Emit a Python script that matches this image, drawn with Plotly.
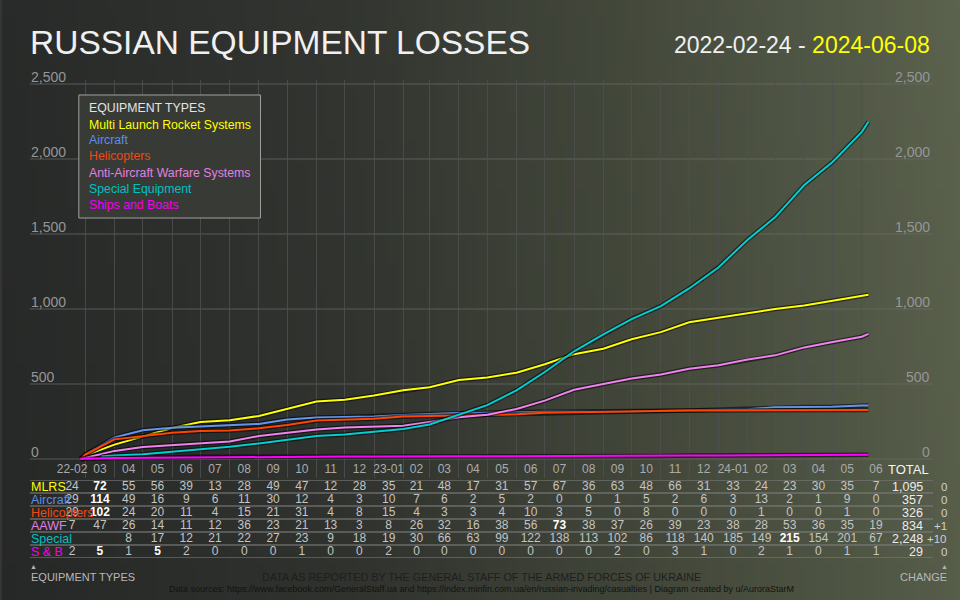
import base64, struct, zlib
import pandas as pd
import plotly.graph_objects as go

W, H = 960, 600

# ---------------- data ----------------
months = [str(p) for p in pd.period_range('2022-02', '2024-06', freq='M')]
month_labels = ['22-02', '03', '04', '05', '06', '07', '08', '09', '10', '11', '12',
                '23-01', '02', '03', '04', '05', '06', '07', '08', '09', '10', '11', '12',
                '24-01', '02', '03', '04', '05', '06']
row_short = ['MLRS', 'Aircraft', 'Helicopters', 'AAWF', 'Special', 'S & B']
series_names = ['Multi Launch Rocket Systems', 'Aircraft', 'Helicopters',
                'Anti-Aircraft Warfare Systems', 'Special Equipment', 'Ships and Boats']
line_colors = ['#ffff00', '#6495ed', '#ff4500', '#ee82ee', '#00ced1', '#ff00ff']
text_colors = ['#ffff00', '#5b8de8', '#f04810', '#e080e0', '#00c0c0', '#f000f0']

monthly_mlrs = [24, 72, 55, 56, 39, 13, 28, 49, 47, 12, 28, 35, 21, 48, 17, 31, 57, 67, 36, 63,
                48, 66, 31, 33, 24, 23, 30, 35, 7]
monthly_aircraft = [29, 114, 49, 16, 9, 6, 11, 30, 12, 4, 3, 10, 7, 6, 2, 5, 2, 0, 0, 1,
                    5, 2, 6, 3, 13, 2, 1, 9, 0]
monthly_heli = [29, 102, 24, 20, 11, 4, 15, 21, 31, 4, 8, 15, 4, 3, 3, 4, 10, 3, 5, 0,
                8, 0, 0, 0, 1, 0, 0, 1, 0]
monthly_aawf = [7, 47, 26, 14, 11, 12, 36, 23, 21, 13, 3, 8, 26, 32, 16, 38, 56, 73, 38, 37,
                26, 39, 23, 38, 28, 53, 36, 35, 19]
monthly_special = [None, None, 8, 17, 12, 21, 22, 27, 23, 9, 18, 19, 30, 66, 63, 99, 122, 138, 113, 102,
                   86, 118, 140, 185, 149, 215, 154, 201, 67]
monthly_ships = [2, 5, 1, 5, 2, 0, 0, 0, 1, 0, 0, 2, 0, 0, 0, 0, 0, 0, 0, 2,
                 0, 3, 1, 0, 2, 1, 0, 1, 1]
monthly = [monthly_mlrs, monthly_aircraft, monthly_heli, monthly_aawf, monthly_special, monthly_ships]

totals = [1095, 357, 326, 834, 2248, 29]
changes = ['0', '0', '0', '+1', '+10', '0']

# cumulative totals read at start, each month end, and the last report date
start_date = '2022-02-24'
end_date = '2024-06-08'
cum_mlrs = [0, 24, 96, 151, 207, 246, 259, 287, 336, 383, 395, 423, 458, 479, 527, 544, 575, 632,
            699, 735, 798, 846, 912, 943, 976, 1000, 1023, 1053, 1088, 1095]
cum_aircraft = [0, 29, 143, 192, 208, 217, 223, 234, 264, 276, 280, 283, 293, 300, 306, 308, 313,
                315, 315, 315, 316, 321, 323, 329, 332, 345, 347, 348, 357, 357]
cum_heli = [0, 29, 131, 155, 175, 186, 190, 205, 226, 257, 261, 269, 284, 288, 291, 294, 298, 308,
            311, 316, 316, 324, 324, 324, 324, 325, 325, 325, 326, 326]
cum_aawf = [0, 7, 54, 80, 94, 105, 117, 153, 176, 197, 210, 213, 221, 247, 279, 295, 333, 389,
            462, 500, 537, 563, 602, 625, 663, 691, 744, 780, 815, 834]
special_start = '2022-03-18'
cum_special = [16, 24, 32, 49, 61, 82, 104, 131, 154, 163, 181, 200, 230, 296, 359, 458, 580, 718,
               831, 933, 1019, 1137, 1277, 1462, 1611, 1826, 1980, 2181, 2248]
cum_ships = [0, 2, 7, 8, 13, 15, 15, 15, 15, 16, 16, 16, 18, 18, 18, 18, 18, 18, 18, 18, 20, 20,
             23, 24, 24, 26, 27, 27, 28, 29]

y_ticks = [0, 500, 1000, 1500, 2000, 2500]

# ---------------- helpers ----------------
def px_x(p):
    return p / W

def px_y(p):
    return 1 - p / H

periods = pd.period_range(months[0], months[-1], freq='M')
month_ends = [p.end_time for p in periods[:-1]]
month_mid = [p.start_time + (p.end_time - p.start_time) / 2 for p in periods]
line_dates = [pd.Timestamp(start_date)] + month_ends + [pd.Timestamp(end_date)]
special_dates = [pd.Timestamp(special_start)] + month_ends[1:] + [pd.Timestamp(end_date)]
cums = [cum_mlrs, cum_aircraft, cum_heli, cum_aawf, cum_special, cum_ships]
dates_per = [line_dates, line_dates, line_dates, line_dates, special_dates, line_dates]


def gradient_png(w, h):
    stops = [(0.0, (41, 43, 42)), (0.35, (50, 53, 48)), (0.65, (68, 73, 60)), (1.0, (91, 98, 77))]
    rows = []
    for j in range(h):
        v = j / (h - 1)
        row = bytearray([0])
        for i in range(w):
            t = i / (w - 1)
            for k in range(len(stops) - 1):
                if stops[k][0] <= t <= stops[k + 1][0]:
                    a, ca = stops[k]
                    b, cb = stops[k + 1]
                    f = (t - a) / (b - a)
                    c = [ca[n] + (cb[n] - ca[n]) * f for n in range(3)]
                    break
            shade = 1.0 - 0.05 * v
            row += bytes(int(max(0, min(255, c[n] * shade))) for n in range(3))
        rows.append(bytes(row))
    raw = b''.join(rows)

    def chunk(tag, data):
        return struct.pack('>I', len(data)) + tag + data + struct.pack('>I', zlib.crc32(tag + data) & 0xffffffff)
    png = b'\x89PNG\r\n\x1a\n' + chunk(b'IHDR', struct.pack('>IIBBBBB', w, h, 8, 2, 0, 0, 0)) \
        + chunk(b'IDAT', zlib.compress(raw, 9)) + chunk(b'IEND', b'')
    return 'data:image/png;base64,' + base64.b64encode(png).decode()


FONT = 'Liberation Sans, Arial, sans-serif'

fig = go.Figure()

# ---------------- lines ----------------
for name, col, d, c in zip(series_names, line_colors, dates_per, cums):
    fig.add_trace(go.Scatter(x=d, y=c, mode='lines', line=dict(color='rgba(0,0,0,0.55)', width=4.5),
                             hoverinfo='skip', showlegend=False, xaxis='x', yaxis='y'))
    fig.add_trace(go.Scatter(x=d, y=c, mode='lines', name=name, line=dict(color=col, width=2),
                             showlegend=False, xaxis='x', yaxis='y'))

# ---------------- table ----------------
for r, vals in zip(row_short, monthly):
    mx = max(v for v in vals if v is not None)
    txt = []
    for v in vals:
        if v is None:
            txt.append('')
        elif v == mx:
            txt.append('<span style="color:#ffffff"><b>%d</b></span>' % v)
        else:
            txt.append('%d' % v)
    fig.add_trace(go.Scatter(x=month_mid, y=[r] * len(vals), mode='text', text=txt,
                             textfont=dict(family=FONT, size=12, color='#c4c4c4'),
                             textposition='middle center', cliponaxis=False,
                             hoverinfo='skip', showlegend=False, xaxis='x2', yaxis='y2'))

shapes = []
# horizontal grid lines (extend beyond the plot both sides)
for v in y_ticks:
    shapes.append(dict(type='line', xref='paper', yref='y', x0=px_x(28), x1=px_x(933), y0=v, y1=v,
                       line=dict(color='rgba(110,110,110,0.7)', width=1), layer='below'))
# table separators
for k in range(len(row_short) + 1):
    shapes.append(dict(type='line', xref='paper', yref='y2', x0=px_x(28), x1=px_x(933),
                       y0=k - 0.5, y1=k - 0.5,
                       line=dict(color='rgba(125,125,125,0.75)', width=1.3), layer='below'))
# legend box
shapes.append(dict(type='rect', xref='paper', yref='paper', x0=px_x(77), x1=px_x(259),
                   y0=px_y(218), y1=px_y(95), fillcolor='#383a36',
                   line=dict(color='#a0a0a0', width=1), layer='above'))

ann = []
# title
ann.append(dict(text='RUSSIAN EQUIPMENT LOSSES', x=px_x(26), y=px_y(42), xref='paper', yref='paper',
                xanchor='left', yanchor='middle', showarrow=False,
                font=dict(family=FONT, size=33.5, color='#f0f0f0')))
ann.append(dict(text='2022-02-24 - <span style="color:#ffff00">2024-06-08</span>', x=px_x(932),
                y=px_y(45), xref='paper', yref='paper', xanchor='right', yanchor='middle',
                showarrow=False, font=dict(family=FONT, size=23, color='#f0f0f0')))
# y tick labels both sides
for v in y_ticks:
    for xp, xa in ((27, 'left'), (932, 'right')):
        ann.append(dict(text=f'{v:,}', x=px_x(xp), y=v, xref='paper', yref='y', xanchor=xa,
                        yanchor='bottom', yshift=-3, showarrow=False,
                        font=dict(family=FONT, size=14, color='#969696')))
# legend
ann.append(dict(text='EQUIPMENT TYPES', x=px_x(85), y=px_y(108), xref='paper', yref='paper',
                xanchor='left', yanchor='middle', showarrow=False,
                font=dict(family=FONT, size=12.3, color='#e4e4e4')))
for i, (nm, col) in enumerate(zip(series_names, text_colors)):
    ann.append(dict(text=nm, x=px_x(85), y=px_y(124.5 + 16 * i), xref='paper', yref='paper',
                    xanchor='left', yanchor='middle', showarrow=False,
                    font=dict(family=FONT, size=12.3, color=col)))
# table row labels, totals, changes
for r, col, t, ch in zip(row_short, text_colors, totals, changes):
    ann.append(dict(text=r, x=px_x(27), y=r, xref='paper', yref='y2', xanchor='left',
                    yanchor='middle', showarrow=False, font=dict(family=FONT, size=12.5, color=col)))
    ann.append(dict(text=f'{t:,}', x=px_x(925), y=r, xref='paper', yref='y2', xanchor='right',
                    yanchor='middle', showarrow=False, font=dict(family=FONT, size=12.5, color='#ececec')))
    ann.append(dict(text=ch, x=px_x(949), y=r, xref='paper', yref='y2', xanchor='right',
                    yanchor='middle', showarrow=False, font=dict(family=FONT, size=11.5, color='#d0d0d0')))
ann.append(dict(text='TOTAL', x=px_x(931), y=px_y(469), xref='paper', yref='paper', xanchor='right',
                yanchor='middle', showarrow=False, font=dict(family=FONT, size=13, color='#f4f4f4')))
# footer
ann.append(dict(text='▲', x=px_x(31.5), y=px_y(566), xref='paper', yref='paper', xanchor='center',
                yanchor='middle', showarrow=False, font=dict(family=FONT, size=7, color='#b4b4b4')))
ann.append(dict(text='EQUIPMENT TYPES', x=px_x(27), y=px_y(577), xref='paper', yref='paper',
                xanchor='left', yanchor='middle', showarrow=False,
                font=dict(family=FONT, size=11, color='#b8b8b8')))
ann.append(dict(text='▲', x=px_x(944), y=px_y(566), xref='paper', yref='paper', xanchor='center',
                yanchor='middle', showarrow=False, font=dict(family=FONT, size=7, color='#b4b4b4')))
ann.append(dict(text='CHANGE', x=px_x(949), y=px_y(577), xref='paper', yref='paper',
                xanchor='right', yanchor='middle', showarrow=False,
                font=dict(family=FONT, size=11, color='#b8b8b8')))
ann.append(dict(text='DATA AS REPORTED BY THE GENERAL STAFF OF THE ARMED FORCES OF UKRAINE',
                x=0.5, y=px_y(577), xref='paper', yref='paper', xanchor='center', yanchor='middle',
                showarrow=False, font=dict(family=FONT, size=10.8, color='#1e1e1e')))
ann.append(dict(text='Data sources: https://www.facebook.com/GeneralStaff.ua and '
                     'https://index.minfin.com.ua/en/russian-invading/casualties | Diagram created by u/AuroraStarM',
                x=0.5, y=px_y(589), xref='paper', yref='paper', xanchor='center', yanchor='middle',
                showarrow=False, font=dict(family=FONT, size=9, color='#121212')))

x_domain = [px_x(57), px_x(890)]
y0_px, ppu = 459.0, 0.15

fig.update_layout(
    width=W, height=H, margin=dict(l=0, r=0, t=0, b=0),
    paper_bgcolor='#34372f', plot_bgcolor='rgba(0,0,0,0)',
    font=dict(family=FONT, color='#cccccc'),
    showlegend=False,
    images=[dict(source=gradient_png(96, 24), xref='paper', yref='paper', x=0, y=1, sizex=1, sizey=1,
                 sizing='stretch', xanchor='left', yanchor='top', layer='below')],
    xaxis=dict(type='date', domain=x_domain, range=['2022-02-01', '2024-07-01'],
               tickvals=month_mid, ticktext=month_labels, ticklabelposition='inside', ticks='',
               ticklabeloverflow='allow',
               tickfont=dict(family=FONT, size=12, color='#ababab'),
               showgrid=False, zeroline=False, showline=False, anchor='y',
               minor=dict(tick0='2022-02-01', dtick='M1', showgrid=True,
                          gridcolor='rgba(80,80,80,0.8)', gridwidth=1, ticks='')),
    yaxis=dict(domain=[px_y(478), px_y(80)],
               range=[(y0_px - 478) / ppu, (y0_px - 80) / ppu],
               showgrid=False, zeroline=False, showticklabels=False, showline=False),
    xaxis2=dict(matches='x', domain=x_domain, anchor='y2', visible=False, showgrid=False),
    yaxis2=dict(domain=[px_y(558), px_y(480)], type='category', categoryarray=row_short,
                range=[len(row_short) - 0.5, -0.5], visible=False, showgrid=False),
    shapes=shapes, annotations=ann,
)

fig.write_html('out.html', config={'displayModeBar': False},
               post_script="document.body.style.margin='0';document.body.style.overflow='hidden';")
